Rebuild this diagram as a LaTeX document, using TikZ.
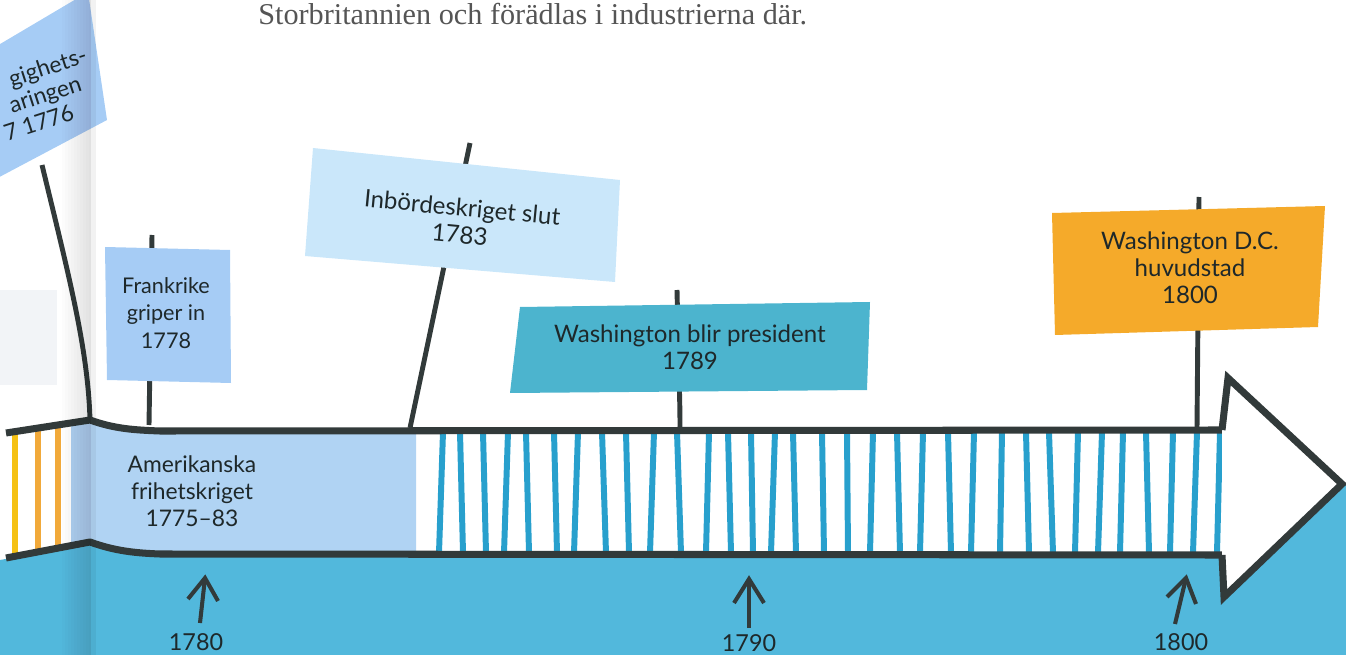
\documentclass[tikz,border=0pt]{standalone}
\usepackage{fontspec}
\setmainfont{Lato}
\newfontfamily\topserif{Liberation Serif}
\definecolor{dark}{RGB}{50,58,58}
\definecolor{ink}{RGB}{30,40,42}
\definecolor{teal}{RGB}{82,184,220}
\definecolor{stripecol}{RGB}{40,160,205}
\definecolor{bandblue}{RGB}{176,211,243}
\definecolor{flagblue}{RGB}{166,204,245}
\definecolor{flagpale}{RGB}{202,231,250}
\definecolor{flagteal}{RGB}{76,180,206}
\definecolor{flagorange}{RGB}{245,170,42}
\definecolor{stripeyellow}{RGB}{245,193,20}
\definecolor{stripeorange}{RGB}{241,169,58}
\definecolor{topgray}{RGB}{85,85,85}
\definecolor{pagegray}{RGB}{242,244,247}
\tikzset{
  flagtext/.style={font=\fontsize{13}{15.5}\selectfont, text=ink, align=center, inner sep=0pt},
  bigflagtext/.style={flagtext, font=\fontsize{13.7}{15.5}\selectfont},
  yeartext/.style={font=\fontsize{13.3}{15.5}\selectfont, text=ink, inner sep=0pt},
  pole/.style={draw=dark, line width=2.8pt},
  bandline/.style={draw=dark, line width=4pt, line join=round},
  stripe/.style={draw=stripecol, line width=3.4pt},
  yearshaft/.style={draw=dark, line width=2.3pt, line join=miter},
}
\begin{document}
\begin{tikzpicture}[x=0.02cm,y=-0.02cm]
\useasboundingbox (0,0) rectangle (1346,655);
\clip (0,0) rectangle (1346,655);

% faint panel on the left page
\fill[pagegray] (0,290) rectangle (57,385);

% teal ground below the band
\fill[teal] (0,560) -- (90,544) .. controls (115,553) and (135,555) .. (160,556)
  -- (1222,556) -- (1224,598) -- (1343,484) -- (1346,484) -- (1346,655) -- (0,655) -- cycle;

% left page band stripes
\draw[draw=stripeyellow, line width=3.4pt] (15,430) -- (15,557);
\draw[draw=stripeorange, line width=3.4pt] (38,428) -- (38,554);
\draw[draw=stripeorange, line width=3.4pt] (58,425) -- (58,551);
\fill[bandblue] (71,423) -- (90,420) -- (90,543) -- (71,547) -- cycle;

% right page light blue segment
\fill[bandblue] (90,420) .. controls (115,429) and (135,430) .. (160,431) -- (416,431)
  -- (416,555) -- (160,554) .. controls (135,553) and (115,551) .. (90,542) -- cycle;

% stripes 1783-1800
\foreach \a/\b in {443/439,460/463,483/486,508/504,526/529,554/557,578/574,602/606,626/629,654/650,677/681,709/706,728/731,751/753,775/771,793/796,822/824,847/848,873/870,897/900,923/920,948/951,974/971,1002/1000,1026/1029,1049/1053,1078/1075,1102/1098,1123/1120,1146/1149,1173/1170,1197/1193,1220/1217}
  \draw[stripe] (\a,432) -- (\b,553);

% band outlines
\draw[bandline] (6,433) -- (90,420) .. controls (115,429) and (135,430) .. (160,431) -- (1222,430);
\draw[bandline] (6,558) -- (90,542) .. controls (115,551) and (135,553) .. (160,554) -- (1222,555);

% arrow head
\draw[bandline, fill=white, line join=miter] (1222,430) -- (1228,378) -- (1342,484) -- (1224,597) -- (1222,555);

% poles
\draw[pole] (42,165) .. controls (70,280) and (88,350) .. (90,420);
\draw[pole] (152,235) -- (149,425);
\draw[pole] (470,143) -- (410,428);
\draw[pole] (677,290) .. controls (679,380) and (680,400) .. (680,428);
\draw[pole] (1199,197) -- (1197,428);

% flags
\fill[flagblue] (-10,50) -- (88,-8) -- (107,120) -- (-10,182) -- cycle;
\node[flagtext, rotate=18, anchor=east, align=right, font=\fontsize{13}{14.3}\selectfont] (decl) at (94,78)
  {gighets-\\aringen\rule{8pt}{0pt}\\7 1776\rule{17pt}{0pt}};

\fill[flagblue] (105,247) -- (230,250) -- (231,383) -- (107,380) -- cycle;
\node[flagtext, font=\fontsize{12.3}{15.5}\selectfont] (fr) at (166,313) {Frankrike\\griper in\\1778};

\fill[flagpale] (313,148) -- (620,180) -- (615,282) -- (305,256) -- cycle;
\node[bigflagtext, rotate=-5.5] (inb) at (461,221) {Inbördeskriget slut\\1783};

\fill[flagteal] (520,307) -- (870,302) -- (867,390) -- (510,393) -- cycle;
\node[bigflagtext] (wp) at (690,347) {Washington blir president\\1789};

\fill[flagorange] (1052,213) -- (1325,206) -- (1318,327) -- (1055,335) -- cycle;
\node[bigflagtext] (dc) at (1190,268) {Washington D.C.\\huvudstad\\1800};

% band label
\node[flagtext] (war) at (192,491) {Amerikanska\\frihetskriget\\1775--83};

% year markers
\node[yeartext] (y1780) at (196,642) {1780};
\node[yeartext] (y1790) at (749,643) {1790};
\node[yeartext] (y1800) at (1181,642) {1800};
\coordinate (a1780b) at (200,623); \coordinate (a1780t) at (205,578);
\coordinate (a1780l) at (188,599); \coordinate (a1780r) at (218,601);
\coordinate (a1790b) at (749,628); \coordinate (a1790t) at (749,579);
\coordinate (a1790l) at (734,603); \coordinate (a1790r) at (764,603);
\coordinate (a1800b) at (1175,624); \coordinate (a1800t) at (1186,578);
\coordinate (a1800l) at (1167,597); \coordinate (a1800r) at (1196,604);
\draw[yearshaft] (a1780b) -- (a1780t);
\draw[yearshaft] (a1780l) -- (a1780t) -- (a1780r);
\draw[yearshaft] (a1790b) -- (a1790t);
\draw[yearshaft] (a1790l) -- (a1790t) -- (a1790r);
\draw[yearshaft] (a1800b) -- (a1800t);
\draw[yearshaft] (a1800l) -- (a1800t) -- (a1800r);

% top text
\node[anchor=base west, inner sep=0pt, text=topgray, font=\topserif\fontsize{17.2}{20}\selectfont] (top) at (258,25) {Storbritannien och förädlas i industrierna där.};

% book gutter shading
\foreach \i in {0,...,9}
  \fill[black, opacity=0.012] (62+3*\i,0) rectangle (91,655);
\fill[black, opacity=0.05] (91,0) rectangle (96,655);
\end{tikzpicture}
\end{document}
